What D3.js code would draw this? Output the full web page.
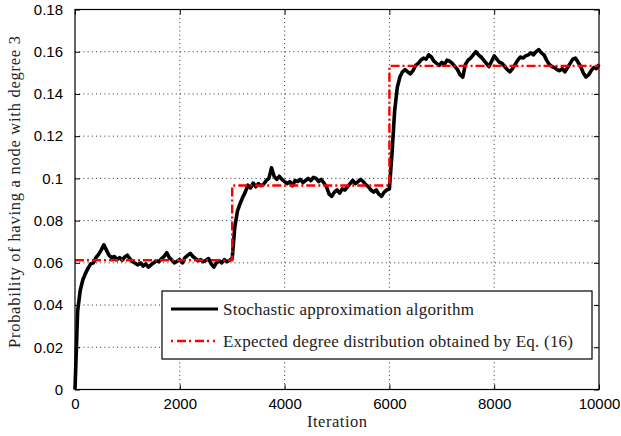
<!DOCTYPE html>
<html><head><meta charset="utf-8">
<script src="https://cdn.jsdelivr.net/npm/d3@7"></script>
<style>html,body{margin:0;padding:0;background:#fff;}svg{display:block;}</style>
</head><body>
<svg id="c" width="621" height="436"></svg>
<script>
// ---- data ----
const xTicks = [0, 2000, 4000, 6000, 8000, 10000];
const yTicks = [0, 0.02, 0.04, 0.06, 0.08, 0.1, 0.12, 0.14, 0.16, 0.18];
const yTickLabels = ["0","0.02","0.04","0.06","0.08","0.1","0.12","0.14","0.16","0.18"];
const saStep = 50; // iteration spacing of the stochastic approximation samples
const saValues = [
0,0.037,0.047,0.052,0.055,0.0575,0.0595,0.0600,0.0625,0.0640,
0.0660,0.0685,0.0660,0.0635,0.0625,0.0630,0.0615,0.0625,0.0612,0.0628,
0.0636,0.0618,0.0605,0.0598,0.0590,0.0600,0.0585,0.0595,0.0580,0.0590,
0.0600,0.0610,0.0605,0.0620,0.0630,0.0648,0.0625,0.0612,0.0600,0.0608,
0.0615,0.0600,0.0625,0.0635,0.0645,0.0630,0.0620,0.0610,0.0615,0.0605,
0.0612,0.0620,0.0595,0.0580,0.0600,0.0610,0.0600,0.0615,0.0605,0.0612,
0.0620,0.0770,0.0845,0.0880,0.0910,0.0935,0.0968,0.0955,0.0978,0.0960,
0.0975,0.0965,0.0972,0.0990,0.1000,0.1050,0.1010,0.0995,0.1010,0.0995,
0.0985,0.0975,0.0985,0.0965,0.0990,0.0985,0.0995,0.0980,0.0990,0.1000,
0.0990,0.1005,0.1000,0.0985,0.0995,0.0978,0.0960,0.0925,0.0915,0.0935,
0.0945,0.0930,0.0950,0.0945,0.0960,0.0975,0.0990,0.0975,0.0985,0.0995,
0.0985,0.0970,0.0960,0.0945,0.0935,0.0945,0.0925,0.0915,0.0935,0.0945,
0.0950,0.1120,0.1320,0.1430,0.1480,0.1505,0.1515,0.1505,0.1495,0.1510,
0.1535,0.1545,0.1560,0.1570,0.1565,0.1585,0.1575,0.1555,0.1545,0.1535,
0.1550,0.1540,0.1560,0.1555,0.1545,0.1530,0.1515,0.1490,0.1480,0.1540,
0.1560,0.1570,0.1585,0.1600,0.1585,0.1575,0.1560,0.1545,0.1530,0.1555,
0.1580,0.1565,0.1550,0.1545,0.1530,0.1515,0.1505,0.1520,0.1540,0.1560,
0.1575,0.1570,0.1580,0.1585,0.1595,0.1585,0.1600,0.1610,0.1595,0.1585,
0.1560,0.1540,0.1530,0.1525,0.1515,0.1510,0.1520,0.1505,0.1525,0.1545,
0.1565,0.1570,0.1550,0.1530,0.1500,0.1480,0.1490,0.1510,0.1525,0.1520,
0.1540
];
const expIter  = [0, 3000, 3000, 6000, 6000, 10000];
const expValue = [0.0612, 0.0612, 0.0966, 0.0966, 0.1533, 0.1533];
const legendLabels = ["Stochastic approximation algorithm", "Expected degree distribution obtained by Eq. (16)"];

// ---- layout ----
const L = 75, R = 599, T = 9.5, B = 389.5;
const svg = d3.select("#c");
const x = d3.scaleLinear().domain([0, 10000]).range([L, R]);
const y = d3.scaleLinear().domain([0, 0.18]).range([B, T]);

// grid
const g = svg.append("g");
g.selectAll(".gx").data(xTicks.slice(1, -1)).enter().append("line")
  .attr("x1", d => x(d)).attr("x2", d => x(d)).attr("y1", T).attr("y2", B)
  .attr("stroke", "#333").attr("stroke-width", 1).attr("stroke-dasharray", "1,3.2");
g.selectAll(".gy").data(yTicks.slice(1, -1)).enter().append("line")
  .attr("y1", d => y(d)).attr("y2", d => y(d)).attr("x1", L).attr("x2", R)
  .attr("stroke", "#333").attr("stroke-width", 1).attr("stroke-dasharray", "1,3.2");

// axes with inward ticks
const tickFont = "'Liberation Sans', Arial, sans-serif";
const ax = svg.append("g").attr("transform", `translate(0,${B})`)
  .call(d3.axisBottom(x).tickValues(xTicks).tickSize(-5).tickPadding(9).tickFormat(d3.format("d")));
const axT = svg.append("g").attr("transform", `translate(0,${T})`)
  .call(d3.axisTop(x).tickValues(xTicks).tickSize(-5).tickFormat(""));
const ay = svg.append("g").attr("transform", `translate(${L},0)`)
  .call(d3.axisLeft(y).tickValues(yTicks).tickSize(-5).tickPadding(12).tickFormat((d, i) => yTickLabels[i]));
const ayR = svg.append("g").attr("transform", `translate(${R},0)`)
  .call(d3.axisRight(y).tickValues(yTicks).tickSize(-5).tickFormat(""));
[ax, axT, ay, ayR].forEach(a => {
  a.select(".domain").remove();
  a.selectAll("line").attr("stroke", "#000");
  a.selectAll("text").attr("font-family", tickFont).attr("font-size", 15).attr("fill", "#000");
});

// stochastic line
const saLine = d3.line().x((d, i) => x(i * saStep)).y(d => y(d));
svg.append("path").datum(saValues).attr("d", saLine)
  .attr("fill", "none").attr("stroke", "#000").attr("stroke-width", 3.6).attr("stroke-linejoin", "round");

// expected line
const expLine = d3.line().x(d => x(d[0])).y(d => y(d[1]));
svg.append("path").datum(expIter.map((v, i) => [v, expValue[i]])).attr("d", expLine)
  .attr("fill", "none").attr("stroke", "#ff0000").attr("stroke-width", 2.4).attr("stroke-dasharray", "9,3,2,3");

// box
svg.append("rect").attr("x", L).attr("y", T).attr("width", R - L).attr("height", B - T)
  .attr("fill", "none").attr("stroke", "#000").attr("stroke-width", 1.2);

// legend
const serif = "'Liberation Serif', 'Times New Roman', serif";
const lg = svg.append("g");
lg.append("rect").attr("x", 162).attr("y", 291).attr("width", 430).attr("height", 68)
  .attr("fill", "#fff").attr("stroke", "#000").attr("stroke-width", 1.2);
const rows = [309, 341];
const legendWidths = [251, 350];
lg.append("line").attr("x1", 171).attr("x2", 218).attr("y1", rows[0]).attr("y2", rows[0])
  .attr("stroke", "#000").attr("stroke-width", 3);
lg.append("line").attr("x1", 171).attr("x2", 218).attr("y1", rows[1]).attr("y2", rows[1])
  .attr("stroke", "#ff0000").attr("stroke-width", 2.4).attr("stroke-dasharray", "2,4,9,3,2,4,9,3,2,4");
legendLabels.forEach((t, i) => {
  lg.append("text").attr("x", 223).attr("y", rows[i]).attr("dy", "0.35em")
    .attr("font-family", serif).attr("font-size", 17).attr("fill", "#222")
    .attr("textLength", legendWidths[i]).attr("lengthAdjust", "spacing").text(t);
});

// axis titles
svg.append("text").attr("x", 337).attr("y", 427).attr("text-anchor", "middle")
  .attr("font-family", serif).attr("font-size", 16.5).attr("fill", "#222")
  .attr("textLength", 60).attr("lengthAdjust", "spacing").text("Iteration");
svg.append("text").attr("transform", `translate(20,192) rotate(-90)`).attr("text-anchor", "middle")
  .attr("font-family", serif).attr("font-size", 16.5).attr("fill", "#222")
  .attr("textLength", 312).attr("lengthAdjust", "spacing").text("Probability of having a node with degree 3");
</script>
</body></html>
